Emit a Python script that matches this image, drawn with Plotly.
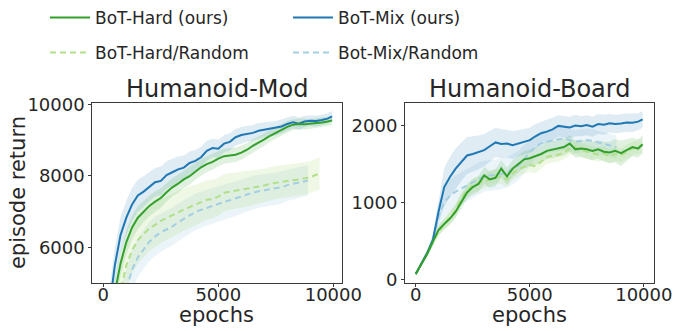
import plotly.graph_objects as go

# ---------------- data ----------------
EP_MOD = [0, 250, 500, 750, 1000, 1250, 1500, 1750, 2000, 2250, 2500, 2750, 3000, 3250,
          3500, 3750, 4000, 4250, 4500, 4750, 5000, 5250, 5500, 5750, 6000, 6250, 6500,
          6750, 7000, 7250, 7500, 7750, 8000, 8250, 8500, 8750, 9000, 9250, 9500, 9750, 9950]

MOD_MIX = [3000, 4250, 5500, 6350, 6830, 7200, 7450, 7560, 7700, 7820, 7860, 8020, 8100, 8180,
           8230, 8360, 8420, 8520, 8700, 8780, 8760, 8900, 8950, 9080, 9140, 9170, 9200,
           9260, 9290, 9320, 9330, 9380, 9450, 9500, 9460, 9520, 9540, 9530, 9560, 9600, 9660]
MOD_MIX_SD = [500, 500, 500, 500, 480, 470, 450, 430, 410, 400, 400, 390, 380, 360,
              340, 320, 300, 290, 280, 260, 250, 240, 240, 230, 230, 220, 220,
              220, 210, 210, 200, 200, 190, 180, 170, 160, 150, 150, 150, 150, 150]

MOD_HARD = [3100, 3950, 4750, 5560, 6150, 6560, 6830, 7000, 7160, 7280, 7380, 7540, 7680, 7780,
            7900, 7990, 8120, 8240, 8330, 8390, 8480, 8550, 8570, 8590, 8650, 8730, 8840,
            8920, 9020, 9120, 9210, 9290, 9370, 9430, 9450, 9440, 9450, 9470, 9490, 9520, 9550]
MOD_HARD_SD = [350, 350, 350, 350, 340, 330, 320, 300, 290, 280, 270, 260, 250, 250,
               240, 240, 230, 230, 220, 220, 210, 210, 200, 200, 200, 190, 190,
               180, 180, 170, 170, 160, 160, 150, 150, 150, 140, 140, 130, 130, 130]

EP_MOD_HR = [0, 250, 500, 750, 1000, 1250, 1500, 1750, 2000, 2250, 2500, 2750, 3000, 3250,
             3500, 3750, 4000, 4250, 4500, 4750, 5000, 5250, 5500, 5750, 6000, 6250, 6500,
             6750, 7000, 7250, 7500, 7750, 8000, 8250, 8500, 8750, 9000, 9250, 9400]
MOD_HARD_RND = [2700, 3400, 4100, 4820, 5500, 5920, 6200, 6380, 6530, 6630, 6740, 6820, 6890, 6980,
                7060, 7130, 7180, 7250, 7330, 7350, 7420, 7530, 7560, 7590, 7600, 7630, 7660,
                7700, 7730, 7780, 7810, 7830, 7860, 7880, 7900, 7920, 7960, 8030, 8060]
MOD_HARD_RND_SD = [650, 650, 650, 650, 650, 650, 650, 650, 640, 630, 620, 610, 600, 600,
                   590, 580, 570, 560, 550, 540, 530, 520, 510, 500, 500, 490, 480,
                   480, 470, 470, 460, 460, 450, 450, 450, 450, 450, 450, 450]

EP_MOD_MR = [0, 250, 500, 750, 1000, 1250, 1500, 1750, 2000, 2250, 2500, 2750, 3000, 3250,
             3500, 3750, 4000, 4250, 4500, 4750, 5000, 5250, 5500, 5750, 6000, 6250, 6500,
             6750, 7000, 7250, 7500, 7750, 8000, 8250, 8500, 8750, 8900]
MOD_MIX_RND = [2700, 3200, 3750, 4300, 4820, 5380, 5720, 5950, 6160, 6310, 6420, 6500, 6580, 6700,
               6800, 6900, 6990, 7050, 7110, 7160, 7220, 7270, 7320, 7360, 7420, 7480, 7530,
               7570, 7600, 7620, 7640, 7680, 7740, 7780, 7820, 7850, 7870]
MOD_MIX_RND_SD = [550, 550, 550, 550, 550, 550, 550, 550, 550, 550, 540, 540, 530, 530,
                  520, 520, 510, 510, 500, 500, 500, 490, 490, 480, 480, 470, 470,
                  460, 460, 450, 450, 450, 440, 440, 430, 430, 430]

EP_BRD = [0, 250, 500, 750, 1000, 1250, 1500, 1750, 2000, 2250, 2500, 2750, 3000, 3250,
          3500, 3750, 4000, 4250, 4500, 4750, 5000, 5250, 5500, 5750, 6000, 6250, 6500,
          6750, 7000, 7250, 7500, 7750, 8000, 8250, 8500, 8750, 9000, 9250, 9500, 9750, 9950]
BRD_MIX = [70, 210, 340, 510, 880, 1200, 1330, 1440, 1530, 1610, 1630, 1650, 1680, 1730,
           1780, 1760, 1765, 1745, 1770, 1790, 1810, 1860, 1900, 1920, 1950, 1995, 1985,
           1975, 2000, 1990, 2005, 1985, 2020, 2010, 2030, 2020, 2025, 2040, 2035, 2050, 2080]
BRD_MIX_SD = [20, 30, 40, 60, 150, 250, 260, 260, 250, 240, 230, 220, 210, 200,
              190, 190, 180, 180, 170, 170, 160, 160, 150, 150, 150, 140, 140,
              140, 140, 130, 130, 130, 130, 130, 120, 120, 120, 120, 120, 110, 110]

BRD_HARD = [70, 200, 330, 490, 640, 720, 790, 880, 1010, 1130, 1200, 1240, 1350, 1300,
            1320, 1440, 1340, 1440, 1500, 1560, 1575, 1600, 1630, 1670, 1690, 1700, 1720,
            1765, 1690, 1700, 1690, 1670, 1690, 1660, 1650, 1670, 1640, 1680, 1720, 1700, 1755]
BRD_HARD_SD = [20, 30, 40, 50, 60, 70, 80, 80, 90, 90, 100, 100, 110, 110,
               110, 110, 110, 110, 110, 110, 110, 110, 110, 110, 110, 110, 110,
               110, 110, 110, 120, 120, 120, 130, 140, 150, 170, 140, 120, 120, 120]

EP_BRD_HR = [0, 250, 500, 750, 1000, 1250, 1500, 1750, 2000, 2250, 2500, 2750, 3000, 3250,
             3500, 3750, 4000, 4250, 4500, 4750, 5000, 5250, 5500, 5750, 6000, 6250, 6500,
             6750, 7000, 7250, 7500, 7750, 8000, 8250, 8500, 8750, 9000, 9250, 9500, 9750, 9900]
BRD_HARD_RND = [70, 200, 330, 480, 620, 720, 800, 900, 1050, 1160, 1220, 1250, 1270, 1300,
                1340, 1330, 1300, 1380, 1430, 1460, 1490, 1470, 1530, 1590, 1610, 1620, 1650,
                1700, 1720, 1680, 1660, 1640, 1620, 1640, 1600, 1630, 1610, 1660, 1700, 1720, 1740]
BRD_HARD_RND_SD = [20, 30, 40, 50, 60, 70, 80, 90, 90, 90, 90, 90, 90, 90,
                   90, 90, 90, 90, 90, 90, 90, 90, 90, 90, 90, 90, 90,
                   90, 90, 90, 90, 90, 90, 90, 90, 90, 90, 90, 90, 90, 90]

EP_BRD_MR = [0, 250, 500, 750, 1000, 1250, 1500, 1750, 2000, 2250, 2500, 2750, 3000, 3250,
             3500, 3750, 4000, 4250, 4500, 4750, 5000, 5250, 5500, 5750, 6000, 6250, 6500,
             6750, 7000, 7250, 7500, 7750, 8000, 8250, 8500, 8800]
BRD_MIX_RND = [70, 210, 340, 510, 820, 1000, 1090, 1140, 1180, 1230, 1270, 1310, 1340, 1350,
               1360, 1370, 1390, 1430, 1480, 1560, 1650, 1720, 1770, 1790, 1810, 1820, 1830,
               1810, 1790, 1800, 1810, 1800, 1780, 1760, 1740, 1720]
BRD_MIX_RND_SD = [20, 30, 40, 80, 180, 200, 210, 210, 210, 210, 210, 210, 200, 200,
                  200, 200, 200, 200, 190, 180, 170, 160, 160, 150, 150, 150, 150,
                  150, 150, 150, 150, 150, 150, 150, 150, 150]

LABELS = ["BoT-Hard (ours)", "BoT-Hard/Random", "BoT-Mix (ours)", "Bot-Mix/Random"]
TITLES = ["Humanoid-Mod", "Humanoid-Board"]
X_TICKS = [0, 5000, 10000]
X_TICK_TEXT = ["0", "5000", "10000"]
Y_TICKS_MOD = [6000, 8000, 10000]
Y_TICK_TEXT_MOD = ["6000", "8000", "10000"]
Y_TICKS_BRD = [0, 1000, 2000]
Y_TICK_TEXT_BRD = ["0", "1000", "2000"]

# ---------------- styling ----------------
C_HARD, C_HARD_RND = "#33a02c", "#b2df8a"
C_MIX, C_MIX_RND = "#1f78b4", "#a6cee3"
FILL = {C_HARD: "rgba(51,160,44,0.15)", C_HARD_RND: "rgba(178,223,138,0.22)",
        C_MIX: "rgba(31,120,180,0.14)", C_MIX_RND: "rgba(166,206,227,0.22)"}
FONT = "DejaVu Sans"
TXT = "#262626"
W, H = 676, 331

fig = go.Figure()


def add_series(xs, mean, sd, color, dash, xa, ya, legend_name, label, show):
    upper = [m + s for m, s in zip(mean, sd)]
    lower = [m - s for m, s in zip(mean, sd)]
    fig.add_trace(go.Scatter(x=list(xs) + list(xs[::-1]), y=upper + lower[::-1],
                             fill="toself", fillcolor=FILL[color], line=dict(width=0),
                             mode="lines", hoverinfo="skip", showlegend=False,
                             xaxis=xa, yaxis=ya))
    return dict(x=xs, y=mean, color=color, dash=dash, xa=xa, ya=ya,
                legend=legend_name, label=label, show=show)


lines = []
lines.append(add_series(EP_MOD_MR, MOD_MIX_RND, MOD_MIX_RND_SD, C_MIX_RND, "6px,4px", "x", "y", "legend4", LABELS[3], True))
lines.append(add_series(EP_MOD_HR, MOD_HARD_RND, MOD_HARD_RND_SD, C_HARD_RND, "6px,4px", "x", "y", "legend2", LABELS[1], True))
lines.append(add_series(EP_MOD, MOD_MIX, MOD_MIX_SD, C_MIX, None, "x", "y", "legend3", LABELS[2], True))
lines.append(add_series(EP_MOD, MOD_HARD, MOD_HARD_SD, C_HARD, None, "x", "y", "legend", LABELS[0], True))
lines.append(add_series(EP_BRD_MR, BRD_MIX_RND, BRD_MIX_RND_SD, C_MIX_RND, "6px,4px", "x2", "y2", "legend4", LABELS[3], False))
lines.append(add_series(EP_BRD_HR, BRD_HARD_RND, BRD_HARD_RND_SD, C_HARD_RND, "6px,4px", "x2", "y2", "legend2", LABELS[1], False))
lines.append(add_series(EP_BRD, BRD_MIX, BRD_MIX_SD, C_MIX, None, "x2", "y2", "legend3", LABELS[2], False))
lines.append(add_series(EP_BRD, BRD_HARD, BRD_HARD_SD, C_HARD, None, "x2", "y2", "legend", LABELS[0], False))

for L in lines:
    ln = dict(color=L["color"], width=2)
    if L["dash"]:
        ln["dash"] = L["dash"]
    fig.add_trace(go.Scatter(x=L["x"], y=L["y"], mode="lines", line=ln, name=L["label"],
                             showlegend=L["show"], legend=L["legend"],
                             xaxis=L["xa"], yaxis=L["ya"]))


def px_x(p):
    return p / W


def px_y(p):
    return 1 - p / H


axis_common = dict(showline=True, mirror=True, linecolor="#3a3a3a", linewidth=1,
                   showgrid=False, zeroline=False, ticks="outside", ticklen=3,
                   tickcolor="#3a3a3a", automargin=False,
                   tickfont=dict(family=FONT, size=18, color=TXT))

legend_common = dict(font=dict(family=FONT, size=17, color=TXT), bgcolor="rgba(0,0,0,0)",
                     borderwidth=0, xanchor="left", yanchor="top", orientation="v",
                     itemwidth=40)

fig.update_layout(
    width=W, height=H, margin=dict(l=0, r=0, t=0, b=0),
    paper_bgcolor="white", plot_bgcolor="white",
    xaxis=dict(domain=[px_x(92.3), px_x(341.7)], range=[-480, 10365], tickvals=X_TICKS,
               ticktext=X_TICK_TEXT, ticklabelstandoff=-8, anchor="y", **axis_common),
    yaxis=dict(domain=[px_y(282.3), px_y(99)], range=[5000, 10030], tickvals=Y_TICKS_MOD,
               ticktext=Y_TICK_TEXT_MOD, anchor="x", **axis_common),
    xaxis2=dict(domain=[px_x(405), px_x(654.3)], range=[-470, 10460], tickvals=X_TICKS,
                ticktext=X_TICK_TEXT, ticklabelstandoff=-8, anchor="y2", **axis_common),
    yaxis2=dict(domain=[px_y(282.3), px_y(99)], range=[-50, 2290], tickvals=Y_TICKS_BRD,
                ticktext=Y_TICK_TEXT_BRD, anchor="x2", **axis_common),
    legend=dict(x=px_x(45), y=px_y(-6.5), **legend_common),
    legend2=dict(x=px_x(45), y=px_y(29.5), **legend_common),
    legend3=dict(x=px_x(288), y=px_y(-6.5), **legend_common),
    legend4=dict(x=px_x(288), y=px_y(29.5), **legend_common),
    showlegend=True,
)

annotations = [
    dict(text=TITLES[0], x=px_x(217), y=px_y(85), font=dict(family=FONT, size=24, color=TXT)),
    dict(text=TITLES[1], x=px_x(529.7), y=px_y(85), font=dict(family=FONT, size=24, color=TXT)),
    dict(text="epochs", x=px_x(217), y=px_y(315), font=dict(family=FONT, size=21, color=TXT)),
    dict(text="epochs", x=px_x(529.7), y=px_y(315), font=dict(family=FONT, size=21, color=TXT)),
    dict(text="episode return", x=px_x(17.5), y=px_y(190), textangle=-90,
         font=dict(family=FONT, size=21, color=TXT)),
]
for a in annotations:
    a.update(xref="paper", yref="paper", showarrow=False, xanchor="center", yanchor="middle")
fig.update_layout(annotations=annotations)

fig.write_html("out.html", config={"displayModeBar": False},
               post_script="document.body.style.margin='0';")
